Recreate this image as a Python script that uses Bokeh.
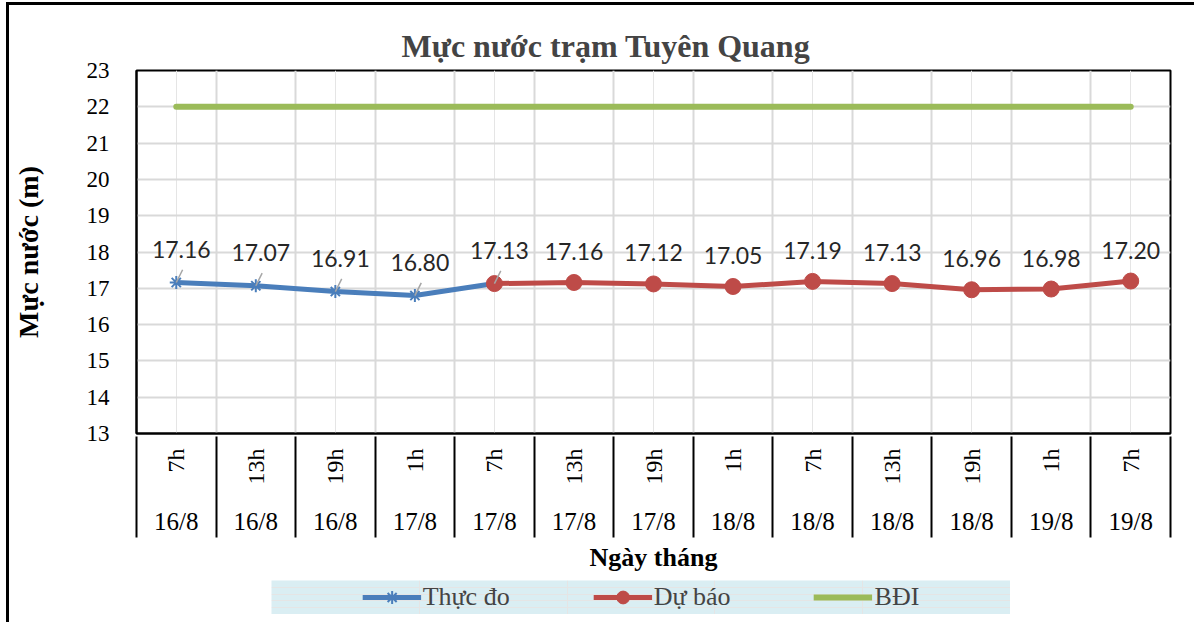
import math
from bokeh.plotting import figure
from bokeh.models import (Range1d, LinearAxis, FixedTicker, Grid, ColumnDataSource,
                          LabelSet, Legend, LegendItem, Spacer)
from bokeh.layouts import column, row
from bokeh.core.properties import value
from bokeh.embed import file_html
from bokeh.resources import INLINE

# ---- data ----
hours = ["7h", "13h", "19h", "1h", "7h", "13h", "19h", "1h", "7h", "13h", "19h", "1h", "7h"]
dates = ["16/8", "16/8", "16/8", "17/8", "17/8", "17/8", "17/8", "18/8", "18/8", "18/8", "18/8", "19/8", "19/8"]
obs_idx = [0, 1, 2, 3, 4]
observed = [17.16, 17.07, 16.91, 16.80, 17.13]
fc_idx = [4, 5, 6, 7, 8, 9, 10, 11, 12]
forecast = [17.13, 17.16, 17.12, 17.05, 17.19, 17.13, 16.96, 16.98, 17.20]
bdi_idx = [0, 1, 2, 3, 4, 5, 6, 7, 8, 9, 10, 11, 12]
bdi = [22, 22, 22, 22, 22, 22, 22, 22, 22, 22, 22, 22, 22]
y_ticks = [13, 14, 15, 16, 17, 18, 19, 20, 21, 22, 23]

BLUE = "#4A7EBB"
RED = "#BE4B48"
GREEN = "#9BBB59"
GRID = "#D9D9D9"
SERIF = "Liberation Serif"

n = len(hours)
centers = list(range(n))
bounds = [i - 0.5 for i in range(n + 1)]

p = figure(width=1185, height=575, x_range=Range1d(-0.5, n - 0.5), y_range=Range1d(13, 23),
           x_axis_location=None, y_axis_location="left", toolbar_location=None,
           output_backend="svg", min_border_left=124, min_border_right=24,
           min_border_top=65, min_border_bottom=147)
p.outline_line_color = "black"
p.outline_line_width = 2
p.background_fill_color = "white"
p.border_fill_color = "white"

p.title.text = "Mực nước trạm Tuyên Quang"
p.title.text_font = SERIF
p.title.text_font_size = "32px"
p.title.text_font_style = "bold"
p.title.align = "left"
p.title.offset = 265
p.title.standoff = 13

ya = p.yaxis[0]
ya.ticker = FixedTicker(ticks=y_ticks)
ya.major_label_text_font = SERIF
ya.major_label_text_font_size = "23px"
ya.major_label_text_color = "black"
ya.major_tick_out = 0
ya.major_tick_in = 0
ya.minor_tick_out = 0
ya.minor_tick_in = 0
ya.major_label_standoff = 27
ya.axis_label = "Mực nước (m)"
ya.axis_label_text_font = SERIF
ya.axis_label_text_font_size = "28px"
ya.axis_label_text_font_style = "bold"
ya.axis_label_text_color = "black"
ya.axis_label_standoff = 40
ya.axis_line_color = "black"
ya.axis_line_width = 2
p.ygrid.ticker = FixedTicker(ticks=y_ticks)
p.ygrid.grid_line_color = GRID
p.ygrid.grid_line_width = 2

p.add_layout(Grid(dimension=0, ticker=FixedTicker(ticks=bounds),
                  grid_line_color=GRID, grid_line_width=2))

# hours axis (text reads bottom-to-top)
ha = LinearAxis(ticker=FixedTicker(ticks=centers),
                major_label_overrides={i: h for i, h in enumerate(hours)},
                major_label_orientation=math.pi / 2)
ha.major_tick_out = 0
ha.major_tick_in = 0
ha.minor_tick_out = 0
ha.minor_tick_in = 0
ha.axis_line_color = "black"
ha.axis_line_width = 2
ha.major_label_standoff = 15
ha.major_label_text_font = SERIF
ha.major_label_text_font_size = "24px"
ha.major_label_text_color = "black"
p.add_layout(ha, "below")

# dates axis
da = LinearAxis(ticker=FixedTicker(ticks=centers),
                major_label_overrides={i: d for i, d in enumerate(dates)})
da.axis_line_color = None
da.major_tick_line_color = None
da.minor_tick_line_color = None
da.major_tick_out = 0
da.major_tick_in = 0
da.minor_tick_out = 0
da.minor_tick_in = 0
da.major_label_standoff = 20
da.major_label_text_font = SERIF
da.major_label_text_font_size = "25px"
da.major_label_text_color = "black"
p.add_layout(da, "below")

# separator axis: ticks drawn inward (upward) between category cells
sa = LinearAxis(ticker=FixedTicker(ticks=bounds),
                major_label_overrides={b: "" for b in bounds})
sa.axis_line_color = None
sa.minor_tick_line_color = None
sa.major_tick_out = 0
sa.major_tick_in = 101
sa.major_tick_line_color = "black"
sa.major_tick_line_width = 2
sa.major_label_standoff = 0
sa.major_label_text_font_size = "0px"
sa.axis_label = "Ngày tháng"
sa.axis_label_text_font = SERIF
sa.axis_label_text_font_size = "26px"
sa.axis_label_text_font_style = "bold"
sa.axis_label_text_color = "black"
sa.axis_label_standoff = 5
p.add_layout(sa, "below")

# series
p.line(obs_idx, observed, line_color=BLUE, line_width=5)
p.scatter(obs_idx, observed, marker="asterisk", size=13, line_color=BLUE, line_width=2)
p.line(fc_idx, forecast, line_color=RED, line_width=5)
p.scatter(fc_idx, forecast, marker="circle", size=16, fill_color=RED, line_color=RED)
p.line(bdi_idx, bdi, line_color=GREEN, line_width=6, line_cap="round")

# leader lines for moved labels
p.segment(x0=obs_idx, y0=observed, x1=[x + 0.08 for x in obs_idx],
          y1=[v + 0.35 for v in observed], line_color="#A6A6A6", line_width=1.5)

src_o = ColumnDataSource(dict(x=obs_idx, y=observed, t=[f"{v:.2f}" for v in observed]))
src_f = ColumnDataSource(dict(x=fc_idx[1:], y=forecast[1:], t=[f"{v:.2f}" for v in forecast[1:]]))
for src, xo, yo in ((src_o, 5, 33), (src_f, 0, 31)):
    p.add_layout(LabelSet(x="x", y="y", text="t", source=src, x_offset=xo, y_offset=yo,
                          text_align="center", text_baseline="middle",
                          text_font=value("Lato"), text_font_size="23px",
                          text_color="#262626"))

# legend strip
lf = figure(width=739, height=34, x_range=Range1d(0, 1), y_range=Range1d(0, 1),
            toolbar_location=None, output_backend="svg", min_border=0,
            x_axis_location=None, y_axis_location=None)
lf.background_fill_color = "#DAEEF3"
lf.border_fill_color = "#DAEEF3"
lf.outline_line_color = None
off = [-5, -4]
r1 = lf.line(off, off, line_color=BLUE, line_width=5)
r1m = lf.scatter(off, off, marker="asterisk", size=13, line_color=BLUE, line_width=2)
r2 = lf.line(off, off, line_color=RED, line_width=5)
r2m = lf.scatter(off, off, marker="circle", size=16, fill_color=RED, line_color=RED)
r3 = lf.line(off, off, line_color=GREEN, line_width=6)
leg = Legend(items=[LegendItem(label="Thực đo", renderers=[r1, r1m]),
                    LegendItem(label="Dự báo", renderers=[r2, r2m]),
                    LegendItem(label="BĐI", renderers=[r3])],
             orientation="horizontal", location="center", background_fill_alpha=0,
             border_line_color=None, label_text_font=SERIF, label_text_font_size="26px",
             glyph_width=59, glyph_height=32, label_standoff=2, spacing=83,
             padding=0, margin=0)
lf.add_layout(leg, "center")

lay = column(p, row(Spacer(width=262, height=34), lf),
             styles={"border-left": "3px solid black", "border-top": "3px solid black",
                     "margin-left": "6px", "margin-top": "2px", "padding-bottom": "8px"})

open("out.html", "w").write(file_html(lay, INLINE))
